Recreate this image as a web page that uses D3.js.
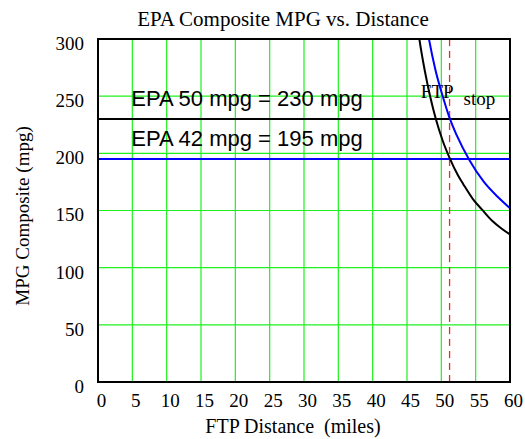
<!DOCTYPE html>
<head>
  <meta charset="utf-8">
  <title>EPA Composite MPG vs. Distance</title>
  <script src="https://cdn.jsdelivr.net/npm/d3@7"></script>
  <style>
    body { margin: 0; background: #fff; }
    text { font-family: "Liberation Serif", "Times New Roman", serif; fill: #000; }
  </style>
</head>

<body>
  <script type="text/javascript">
    var WIDTH = 525;
    var HEIGHT = 439;
    var MARGIN = {top: 39, right: 15, bottom: 57, left: 98};

    //===========data
    var xTicks = [0, 5, 10, 15, 20, 25, 30, 35, 40, 45, 50, 55, 60];
    var yTicks = [0, 50, 100, 150, 200, 250, 300];

    // EPA 50 mpg car (black curve)
    var distEpa50 = [46.4, 46.8, 47.6, 48.4, 49.2, 50.2, 51.2, 52.4, 53.2, 54.6, 55.9, 57.4, 58.8, 60];
    var mpgEpa50  = [317, 300, 272, 249, 230, 211, 196, 181, 173, 160, 151, 141, 134, 129];

    // EPA 42 mpg car (blue curve)
    var distEpa42 = [47.9, 48.2, 49.1, 50.3, 51.2, 52.3, 54.1, 56.2, 58.2, 60];
    var mpgEpa42  = [310, 300, 274, 248, 231, 215, 194, 175, 162, 152];

    // blue stub at zero on the left edge
    var distZero = [0, 1.6];
    var mpgZero  = [0, 0];

    var refLines = [
      {label: "EPA 50 mpg = 230 mpg", value: 230, color: "#000000"},
      {label: "EPA 42 mpg = 195 mpg", value: 195, color: "#0000ff"}
    ];
    var ftpStop = 51.2;

    //===========scales
    var svg = d3.select("body").append("svg")
                .attr("width", WIDTH)
                .attr("height", HEIGHT);

    var x = d3.scaleLinear()
              .domain([0, 60])
              .range([MARGIN.left, WIDTH - MARGIN.right]);
    var y = d3.scaleLinear()
              .domain([0, 300])
              .range([HEIGHT - MARGIN.bottom, MARGIN.top]);

    svg.append("clipPath").attr("id", "plot")
      .append("rect")
      .attr("x", x(0)).attr("y", y(300))
      .attr("width", x(60) - x(0)).attr("height", y(0) - y(300));

    //===========grid
    svg.append("g").selectAll("line")
      .data(xTicks.slice(1, -1))
      .enter().append("line")
      .attr("x1", function(d){ return x(d); })
      .attr("x2", function(d){ return x(d); })
      .attr("y1", y(0)).attr("y2", y(300))
      .attr("stroke", "#1ef01e").attr("stroke-width", 1.2);

    svg.append("g").selectAll("line")
      .data(yTicks.slice(1, -1))
      .enter().append("line")
      .attr("y1", function(d){ return y(d); })
      .attr("y2", function(d){ return y(d); })
      .attr("x1", x(0)).attr("x2", x(60))
      .attr("stroke", "#1ef01e").attr("stroke-width", 1.2);

    //===========reference lines
    svg.append("g").selectAll("line")
      .data(refLines)
      .enter().append("line")
      .attr("x1", x(0)).attr("x2", x(60))
      .attr("y1", function(d){ return y(d.value); })
      .attr("y2", function(d){ return y(d.value); })
      .attr("stroke", function(d){ return d.color; })
      .attr("stroke-width", 2);

    svg.append("g").selectAll("text")
      .data(refLines)
      .enter().append("text")
      .attr("x", x(5) - 1)
      .attr("y", function(d){ return y(d.value) - 13; })
      .style("font-family", "'Liberation Sans', Arial, sans-serif")
      .style("font-size", "22px")
      .text(function(d){ return d.label; });

    //===========ftp stop
    svg.append("line")
      .attr("x1", x(ftpStop)).attr("x2", x(ftpStop))
      .attr("y1", y(300)).attr("y2", y(0))
      .attr("stroke", "#f02828")
      .attr("stroke-width", 1.3)
      .attr("stroke-dasharray", "7,5");

    svg.append("text")
      .attr("x", x(ftpStop) + 4).attr("y", y(248))
      .attr("text-anchor", "end")
      .style("font-size", "19px")
      .text("FTP");
    svg.append("text")
      .attr("x", x(ftpStop) + 14).attr("y", y(242))
      .style("font-size", "19px")
      .text("stop");

    //===========curves
    var line = d3.line()
                 .x(function(d){ return x(d[0]); })
                 .y(function(d){ return y(d[1]); })
                 .curve(d3.curveMonotoneX);

    var curves = [
      {pts: d3.zip(distEpa42, mpgEpa42), color: "#0000ff"},
      {pts: d3.zip(distEpa50, mpgEpa50), color: "#000000"},
      {pts: d3.zip(distZero, mpgZero), color: "#0000ff"}
    ];

    svg.append("g").attr("clip-path", "url(#plot)")
      .selectAll("path")
      .data(curves)
      .enter().append("path")
      .attr("d", function(d){ return line(d.pts); })
      .attr("fill", "none")
      .attr("stroke", function(d){ return d.color; })
      .attr("stroke-width", 2);

    //===========frame
    svg.append("rect")
      .attr("x", x(0)).attr("y", y(300))
      .attr("width", x(60) - x(0)).attr("height", y(0) - y(300))
      .attr("fill", "none")
      .attr("stroke", "#000")
      .attr("stroke-width", 2);

    //===========axes
    var xAxis = svg.append("g")
      .attr("transform", "translate(0," + y(0) + ")")
      .call(d3.axisBottom(x).tickValues(xTicks).tickSize(0).tickPadding(12));
    var yAxis = svg.append("g")
      .attr("transform", "translate(" + x(0) + ",0)")
      .call(d3.axisLeft(y).tickValues(yTicks).tickSize(0).tickPadding(14));

    [xAxis, yAxis].forEach(function(g){
      g.select(".domain").remove();
      g.selectAll("text")
        .style("font-family", "'Liberation Serif', 'Times New Roman', serif")
        .style("font-size", "19px")
        .attr("fill", "#000");
    });
    xAxis.selectAll("text").attr("dx", 3);
    yAxis.selectAll("text").attr("dy", "0.55em");

    //===========titles
    svg.append("text")
      .attr("x", 283).attr("y", 26)
      .attr("text-anchor", "middle")
      .style("font-size", "21px")
      .text("EPA Composite MPG vs. Distance");

    svg.append("text")
      .attr("x", 293).attr("y", 433)
      .attr("text-anchor", "middle")
      .style("font-size", "20px")
      .style("white-space", "pre")
      .text("FTP Distance  (miles)");

    svg.append("text")
      .attr("transform", "translate(29,216) rotate(-90)")
      .attr("text-anchor", "middle")
      .style("font-size", "19px")
      .text("MPG Composite (mpg)");
  </script>
</body>
